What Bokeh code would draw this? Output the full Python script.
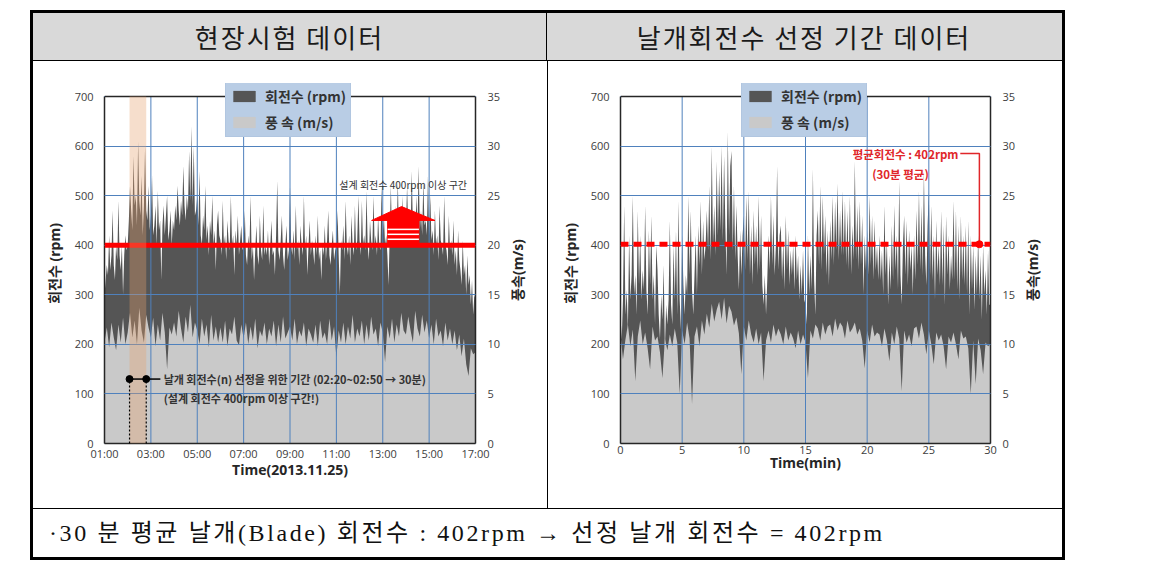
import math
import numpy as np
from bokeh.plotting import figure
from bokeh.models import (Range1d, LinearAxis, FixedTicker, Span, Label, Legend,
                          LegendItem, BoxAnnotation, Div)
from bokeh.layouts import column, row
from bokeh.embed import file_html
from bokeh.resources import INLINE
from bokeh.core.properties import value

# ---------------- data ----------------
header_titles = ["현장시험 데이터", "날개회전수 선정 기간 데이터"]
footer_text = "·30 분 평균 날개(Blade) 회전수 : 402rpm → 선정 날개 회전수 = 402rpm"

left_x_ticks = [1, 3, 5, 7, 9, 11, 13, 15, 17]
left_x_labels = ["01:00", "03:00", "05:00", "07:00", "09:00", "11:00", "13:00", "15:00", "17:00"]
right_x_ticks = [0, 5, 10, 15, 20, 25, 30]
rpm_ticks = [0, 100, 200, 300, 400, 500, 600, 700]
wind_ticks = [0, 5, 10, 15, 20, 25, 30, 35]

# rotor speed (rpm), field test 01:00 - 17:00 (20 readings per hour)
left_rpm = [
    300, 330, 360, 340, 420, 350, 380, 470, 360, 330, 400, 370, 490, 380, 350, 400, 300, 380, 420, 390,
    400, 450, 520, 470, 430, 580, 480, 500, 440, 610, 490, 460, 540, 420, 480, 600, 470, 450, 520, 430,
    460, 540, 420, 440, 480, 400, 510, 430, 450, 330, 440, 480, 420, 460, 500, 410, 430, 470, 400, 450,
    430, 480, 450, 520, 470, 440, 490, 460, 560, 480, 450, 500, 470, 590, 490, 640, 480, 600, 460, 470,
    500, 440, 550, 420, 400, 460, 430, 520, 410, 440, 380, 450, 420, 500, 400, 430, 350, 440, 470, 420,
    410, 380, 490, 400, 420, 370, 450, 410, 390, 500, 400, 420, 340, 430, 400, 460, 380, 410, 440, 390,
    400, 470, 380, 360, 420, 390, 500, 370, 400, 330, 390, 440, 380, 360, 460, 390, 370, 480, 380, 400,
    380, 430, 360, 400, 450, 380, 390, 340, 420, 530, 390, 370, 410, 460, 380, 350, 400, 440, 370, 390,
    520, 400, 380, 430, 370, 480, 390, 410, 360, 440, 400, 380, 500, 390, 420, 340, 400, 450, 380, 410,
    390, 360, 420, 380, 460, 370, 390, 330, 400, 380, 440, 370, 410, 470, 380, 360, 400, 430, 370, 390,
    400, 470, 380, 300, 410, 390, 440, 370, 490, 400, 380, 420, 360, 460, 400, 380, 480, 390, 410, 500,
    410, 380, 490, 400, 420, 390, 510, 400, 370, 450, 410, 390, 500, 400, 420, 380, 460, 400, 390, 520,
    420, 460, 400, 420, 380, 320, 420, 520, 410, 430, 400, 480, 420, 530, 410, 440, 400, 500, 420, 450,
    440, 520, 430, 450, 420, 550, 440, 460, 410, 500, 440, 560, 430, 470, 420, 530, 440, 450, 420, 540,
    420, 500, 410, 430, 380, 470, 400, 420, 370, 480, 410, 400, 380, 500, 400, 390, 360, 460, 390, 410,
    380, 450, 360, 390, 340, 430, 370, 350, 320, 410, 340, 360, 300, 380, 320, 340, 280, 330, 260, 300,
    290,
]
# wind speed (m/s), field test (10 readings per hour)
left_wind = [
    10.2, 11.7, 9.7, 12.2, 10.7, 9.4, 12.0, 10.2, 12.7, 10.0,
    11.2, 13.2, 10.7, 12.4, 10.0, 13.7, 11.4, 10.2, 13.0, 11.7,
    10.7, 12.7, 9.8, 12.0, 10.4, 13.2, 11.2, 7.5, 11.7, 11.0,
    12.2, 10.8, 13.4, 11.6, 10.2, 12.8, 11.2, 14.0, 10.7, 12.2,
    11.4, 10.0, 12.6, 10.8, 12.0, 9.7, 13.0, 10.4, 11.8, 10.2,
    11.7, 10.2, 12.4, 9.8, 11.6, 11.0, 12.8, 10.4, 9.9, 12.0,
    10.6, 12.2, 10.0, 11.8, 10.4, 12.6, 9.6, 11.4, 10.8, 12.2,
    10.0, 11.6, 10.8, 12.4, 9.8, 12.0, 10.2, 12.8, 10.6, 11.2,
    11.8, 10.4, 12.6, 10.0, 11.4, 10.8, 12.2, 9.8, 11.6, 11.0,
    10.2, 12.0, 9.8, 12.4, 10.6, 11.2, 10.0, 12.6, 10.4, 11.8,
    8.7, 11.4, 10.2, 12.2, 10.0, 11.8, 10.6, 13.0, 10.2, 11.6,
    10.8, 12.4, 10.0, 12.0, 10.4, 12.8, 11.0, 11.6, 9.8, 12.2,
    11.2, 8.2, 11.8, 10.6, 12.6, 10.2, 12.0, 10.8, 13.2, 11.4,
    11.0, 12.8, 11.4, 10.2, 13.4, 11.6, 10.8, 13.0, 11.2, 12.4,
    10.6, 12.0, 10.0, 12.6, 10.8, 11.4, 9.8, 12.2, 10.4, 11.6,
    10.0, 11.4, 9.4, 11.0, 8.8, 10.6, 8.0, 6.8, 9.6, 9.0,
    9.2,
]
# rotor speed (rpm), selected 30 minutes (10 readings per minute)
right_rpm = [
    260, 210, 290, 480, 260, 310, 230, 420, 290, 340,
    500, 300, 340, 260, 470, 320, 420, 290, 350, 310,
    480, 310, 260, 430, 320, 460, 290, 340, 240, 400,
    350, 260, 210, 300, 250, 360, 190, 280, 240, 290,
    450, 280, 240, 400, 290, 430, 260, 490, 290, 230,
    420, 320, 260, 340, 300, 500, 340, 470, 310, 260,
    340, 420, 300, 440, 360, 490, 340, 450, 370, 400,
    470, 390, 520, 370, 600, 400, 480, 380, 570, 420,
    550, 430, 600, 410, 580, 440, 340, 630, 420, 560,
    590, 390, 520, 370, 480, 380, 310, 430, 340, 420,
    460, 350, 500, 370, 510, 340, 440, 320, 470, 360,
    440, 340, 500, 350, 460, 320, 280, 340, 260, 330,
    420, 350, 500, 360, 460, 340, 400, 560, 350, 420,
    440, 330, 410, 310, 460, 350, 430, 320, 390, 340,
    400, 310, 420, 330, 380, 290, 360, 300, 390, 290,
    280, 240, 420, 300, 380, 310, 555, 330, 260, 420,
    470, 360, 520, 350, 500, 380, 460, 340, 430, 320,
    450, 370, 500, 360, 490, 390, 525, 370, 470, 380,
    510, 380, 490, 360, 470, 350, 500, 340, 440, 370,
    570, 370, 480, 350, 490, 360, 460, 300, 420, 350,
    430, 340, 500, 360, 460, 330, 450, 350, 400, 330,
    420, 330, 390, 300, 480, 340, 410, 280, 380, 310,
    440, 330, 480, 350, 420, 310, 530, 340, 280, 400,
    460, 340, 450, 320, 430, 350, 400, 300, 420, 330,
    470, 360, 510, 350, 480, 340, 550, 380, 320, 440,
    510, 340, 480, 330, 420, 290, 450, 340, 400, 320,
    470, 320, 440, 280, 460, 340, 420, 310, 380, 330,
    490, 330, 470, 310, 440, 290, 460, 330, 420, 320,
    440, 300, 450, 260, 420, 310, 400, 270, 380, 300,
    420, 290, 380, 250, 400, 300, 350, 260, 390, 280,
    280,
]
# wind speed (m/s), selected 30 minutes (5 readings per minute)
right_wind = [
    11.0, 8.5, 10.5, 12.0, 9.8,
    11.5, 6.3, 10.8, 12.4, 10.0,
    11.2, 9.6, 7.5, 11.8, 10.4,
    10.8, 9.2, 6.6, 10.6, 9.4,
    11.0, 9.8, 11.6, 10.2, 5.0,
    11.4, 10.0, 12.2, 10.6, 4.0,
    10.8, 11.8, 9.8, 12.4, 11.0,
    13.1, 11.7, 14.1, 12.3, 13.5,
    14.3, 12.5, 14.7, 12.1, 13.9,
    13.3, 11.9, 12.7, 11.1, 7.0,
    11.8, 10.4, 12.4, 11.0, 10.2,
    11.6, 10.0, 11.2, 6.3, 10.4,
    11.4, 10.2, 12.0, 10.8, 11.6,
    11.0, 10.0, 11.8, 10.4, 11.2,
    10.6, 9.6, 11.4, 10.0, 11.0,
    10.2, 6.6, 11.4, 10.6, 12.0,
    11.6, 10.4, 12.2, 11.0, 11.8,
    12.0, 10.8, 12.6, 11.4, 12.2,
    11.8, 10.6, 12.4, 11.2, 11.6,
    12.2, 11.0, 11.6, 10.4, 7.6,
    11.4, 10.2, 12.0, 10.8, 11.2,
    11.0, 9.8, 11.6, 10.4, 8.3,
    11.2, 10.0, 11.8, 10.6, 5.3,
    11.4, 10.2, 11.0, 9.8, 11.6,
    11.8, 10.6, 12.2, 11.0, 9.0,
    11.4, 10.0, 8.0, 11.2, 10.4,
    11.0, 9.8, 7.5, 10.8, 10.2,
    11.2, 10.0, 8.5, 11.4, 10.6,
    10.8, 9.6, 5.0, 10.4, 6.0,
    10.6, 9.4, 7.0, 10.2, 9.8,
    10.0,
]

design_rpm = 400
avg_rpm = 402
rpm_max = 700
wind_max = 35

# annotations (data coordinates)
sel_band = [2.08, 2.80]
sel_marker_y = 130
sel_line_end = 3.41
sel_text_x = 3.55
sel_text_y = [130, 91]
sel_texts = ["날개 회전수(n) 선정을 위한 기간 (02:20~02:50 → 30분)", "(설계 회전수 400rpm 이상 구간!)"]
arrow_head_x = [12.52, 13.81, 15.25]
arrow_head_y = [450, 478, 450]
arrow_shaft_x = [13.21, 14.56]
arrow_shaft_y = [400, 450]
arrow_stripes_y = [412, 422, 432]
arrow_text = "설계 회전수 400rpm 이상 구간"
arrow_text_xy = [13.88, 522]

avg_text = ["평균회전수 : 402rpm", "(30분 평균)"]
avg_text_xy = [[27.4, 585], [22.7, 544]]
avg_conn_x = [27.55, 29.1, 29.1]
avg_conn_y = [585, 585, 402]

legend_labels = ["회전수 (rpm)", "풍 속 (m/s)"]
rpm_title = "회전수 (rpm)"
wind_title = "풍속(m/s)"

# ---------------- styles ----------------
KR = "Noto Sans CJK KR"
NUM = "Open Sans"
RPM_C = "#555555"
WIND_C = "#c9c9c9"
GRID_C = "#4f81bd"
RED = "#ff0000"
TXT = "#262626"
FRAME_C = "#262626"
Y_TOP = 726.3          # head-room above 700 so the legend can overhang the frame
FIG_W, FIG_H = 470, 447
TITLE_W = 44


def make_fig(x0, x1, xticks, xlabels, xtitle, rpm, wind, mb_left, mb_right):
    p = figure(width=FIG_W, height=FIG_H, x_range=Range1d(x0, x1), y_range=Range1d(0, Y_TOP),
               output_backend="svg", toolbar_location=None,
               min_border_left=mb_left, min_border_right=mb_right,
               min_border_top=22, min_border_bottom=65,
               background_fill_color="white", border_fill_color="white",
               outline_line_color=None)
    p.extra_y_ranges = {"wind": Range1d(0, Y_TOP * wind_max / rpm_max)}

    tx = np.linspace(x0, x1, len(rpm))
    tw = np.linspace(x0, x1, len(wind))
    r_rpm = p.varea(x=tx, y1=np.zeros(len(rpm)), y2=np.array(rpm, dtype=float),
                    fill_color=RPM_C)
    r_wind = p.varea(x=tw, y1=np.zeros(len(wind)), y2=np.array(wind, dtype=float),
                     fill_color=WIND_C, y_range_name="wind")

    # grid
    p.xgrid.visible = False
    p.segment(x0=xticks, x1=xticks, y0=[0] * len(xticks), y1=[rpm_max] * len(xticks),
              line_color=GRID_C, line_width=1, level="guide")
    p.ygrid.ticker = FixedTicker(ticks=rpm_ticks)
    p.ygrid.grid_line_color = GRID_C
    p.ygrid.grid_line_width = 1
    p.ygrid.level = "guide"

    # axes
    xa = p.xaxis[0]
    xa.ticker = FixedTicker(ticks=xticks)
    if xlabels is not None:
        xa.major_label_overrides = {int(t): l for t, l in zip(xticks, xlabels)}
    xa.axis_label = xtitle
    ya = p.yaxis[0]
    ya.ticker = FixedTicker(ticks=rpm_ticks)
    ya.axis_label = rpm_title
    ya.bounds = (0, rpm_max)

    ra = LinearAxis(y_range_name="wind", ticker=FixedTicker(ticks=wind_ticks),
                    bounds=(0, wind_max))
    p.add_layout(ra, "right")

    for ax in (xa, ya, ra):
        ax.axis_line_color = FRAME_C
        ax.axis_line_width = 1.5
        ax.major_tick_line_color = None
        ax.minor_tick_line_color = None
        ax.major_tick_out = 0
        ax.major_tick_in = 0
        ax.major_label_text_font = f"{NUM}, {KR}"
        ax.major_label_text_font_size = "11px"
        ax.major_label_text_color = "#404040"
        ax.axis_label_text_font = f"{NUM}, {KR}"
        ax.axis_label_text_font_size = "14px"
        ax.axis_label_text_font_style = "bold"
        ax.axis_label_text_color = TXT
    xa.major_label_standoff = 2
    xa.axis_label_standoff = -4
    ya.major_label_standoff = 11
    ya.axis_label_standoff = 8
    ra.major_label_standoff = 12

    # top frame line
    p.add_layout(Span(location=rpm_max, dimension="width", line_color=FRAME_C, line_width=1.5))
    return p, r_rpm, r_wind


def add_legend(p, r_rpm, r_wind):
    legend = Legend(items=[LegendItem(label=value(legend_labels[0]), renderers=[r_rpm]),
                           LegendItem(label=value(legend_labels[1]), renderers=[r_wind])],
                    location=(121, 306), orientation="vertical",
                    background_fill_color="#b9cde5", background_fill_alpha=1.0,
                    border_line_color="#a9bfdc", border_line_width=1,
                    label_text_font=KR, label_text_font_size="14px",
                    label_text_font_style="bold", label_text_color="#333333",
                    glyph_width=28, glyph_height=14, label_height=20,
                    label_standoff=7, spacing=6, padding=4, margin=0)
    p.add_layout(legend, "center")


# ---------------- left chart ----------------
pl, rl1, rl2 = make_fig(1, 17, left_x_ticks, left_x_labels, "Time(2013.11.25)",
                        left_rpm, left_wind, 71, 28)
pl.add_layout(Span(location=design_rpm, dimension="width", line_color=RED, line_width=5))
pl.add_layout(BoxAnnotation(left=sel_band[0], right=sel_band[1], top=rpm_max, bottom=0,
                            fill_color="#e6a06e", fill_alpha=0.35, line_color=None))
pl.segment(x0=sel_band, y0=[0, 0], x1=sel_band, y1=[sel_marker_y, sel_marker_y],
           line_color="black", line_width=1.2, line_dash="2 2", level="overlay")
pl.line(x=[sel_band[0], sel_line_end], y=[sel_marker_y, sel_marker_y], line_color="black",
        line_width=1.5, level="overlay")
pl.scatter(x=sel_band, y=[sel_marker_y, sel_marker_y], size=7, color="black", level="overlay")
for t, yy in zip(sel_texts, sel_text_y):
    pl.add_layout(Label(x=sel_text_x, y=yy, text=t, text_font=KR, text_font_size="11px",
                        text_font_style="bold", text_color="#333333", text_baseline="middle",
                        text_align="left"))
pl.patch(x=arrow_head_x, y=arrow_head_y, fill_color=RED, line_color=RED, level="overlay")
pl.quad(left=[arrow_shaft_x[0]], right=[arrow_shaft_x[1]], bottom=[arrow_shaft_y[0]],
        top=[arrow_shaft_y[1]], fill_color=RED, line_color=RED, level="overlay")
pl.segment(x0=[arrow_shaft_x[0]] * 3, x1=[arrow_shaft_x[1]] * 3, y0=arrow_stripes_y,
           y1=arrow_stripes_y, line_color="white", line_width=1.5, level="overlay")
pl.add_layout(Label(x=arrow_text_xy[0], y=arrow_text_xy[1], text=arrow_text, text_font=KR,
                    text_font_size="10px", text_color="#333333", text_align="center",
                    text_baseline="middle"))
add_legend(pl, rl1, rl2)

# ---------------- right chart ----------------
pr, rr1, rr2 = make_fig(0, 30, right_x_ticks, None, "Time(min)", right_rpm, right_wind, 72, 26)
pr.add_layout(Span(location=avg_rpm, dimension="width", line_color=RED, line_width=5,
                   line_dash="8 5"))
pr.line(x=avg_conn_x, y=avg_conn_y, line_color="#e0262a", line_width=1.5, level="overlay")
pr.scatter(x=[avg_conn_x[-1]], y=[avg_conn_y[-1]], size=7, color=RED, level="overlay")
pr.add_layout(Label(x=avg_text_xy[0][0], y=avg_text_xy[0][1], text=avg_text[0], text_font=KR,
                    text_font_size="11.5px", text_font_style="bold", text_color="#e0262a",
                    text_align="right", text_baseline="middle"))
pr.add_layout(Label(x=avg_text_xy[1][0], y=avg_text_xy[1][1], text=avg_text[1], text_font=KR,
                    text_font_size="11.5px", text_font_style="bold", text_color="#e0262a",
                    text_align="center", text_baseline="middle"))
add_legend(pr, rr1, rr2)

# ---------------- table layout ----------------
hdr_html = (
    '<div style="box-sizing:border-box;width:1035px;height:51px;border-top:3px solid #000;'
    'border-left:3px solid #000;border-right:3px solid #000;border-bottom:1px solid #000;'
    f"background:#d9d9d9;display:flex;font-family:'{KR}';font-size:26px;letter-spacing:2px;color:#1a1a1a;\">"
    f'<div style="width:514px;line-height:47px;text-align:center;border-right:1px solid #000;">{header_titles[0]}</div>'
    f'<div style="width:514px;line-height:47px;text-align:center;">{header_titles[1]}</div></div>'
)
header = Div(text=hdr_html, width=1035, height=51, margin=0)


def vbar(w):
    return Div(text=f'<div style="width:{w}px;height:{FIG_H}px;background:#000"></div>',
               width=w, height=FIG_H, margin=0)


def wind_axis_title():
    html = (
        f'<div style="position:relative;width:{TITLE_W}px;height:{FIG_H}px;background:#fff;">'
        '<div style="position:absolute;left:15px;top:209px;transform:translate(-50%,-50%) rotate(-90deg);'
        f"white-space:nowrap;font-family:'{NUM}','{KR}';font-weight:bold;font-size:14px;"
        f'color:{TXT};line-height:16px;">{wind_title}</div></div>'
    )
    return Div(text=html, width=TITLE_W, height=FIG_H, margin=0)


ftr_html = (
    '<div style="box-sizing:border-box;width:1035px;height:52px;border-top:1px solid #000;'
    'border-left:3px solid #000;border-right:3px solid #000;border-bottom:3px solid #000;'
    f"padding-left:16px;line-height:48px;font-family:'Liberation Serif','{KR}';font-size:24px;"
    f'letter-spacing:2.6px;color:#111;white-space:nowrap;">{footer_text}</div>'
)
footer = Div(text=ftr_html, width=1035, height=52, margin=0)

middle = row(vbar(3), pl, wind_axis_title(), vbar(1), pr, wind_axis_title(), vbar(3), spacing=0)
root = column(header, middle, footer, spacing=0, margin=(10, 0, 0, 30))

open("out.html", "w").write(file_html(root, INLINE))
